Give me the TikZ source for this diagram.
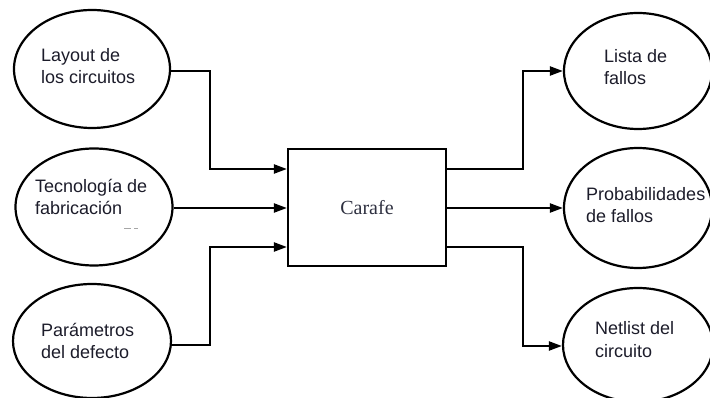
\documentclass[tikz,border=0pt]{standalone}
\usepackage{fontspec}
\setmainfont{Liberation Sans}
\newfontfamily\serifface{Liberation Serif}
\usetikzlibrary{shapes.geometric,arrows.meta}
\definecolor{ink}{HTML}{1C1C2A}
\definecolor{boxink}{HTML}{2E3040}
\tikzset{
  oval/.style={draw=black, line width=2.2pt, ellipse, inner sep=0pt},
  block/.style={draw=black, line width=2.2pt, rectangle, inner sep=0pt,
                minimum width=158pt, minimum height=117pt},
  % anchored on the baseline of the second line
  lbl/.style={align=left, anchor=base west, inner sep=0pt, text=ink,
              font=\fontsize{18}{22.5}\selectfont},
  flow/.style={line width=2.2pt, -{Triangle[length=13pt,width=9pt]}},
}
\begin{document}
\begin{tikzpicture}[x=1pt, y=-1pt]
  \useasboundingbox (0,0) rectangle (710,398);

  % inputs
  \node[oval, minimum width=156pt, minimum height=118pt] (layout) at (92,69) {};
  \node[oval, minimum width=157pt, minimum height=117pt] (tecno)  at (94,207) {};
  \node[oval, minimum width=158pt, minimum height=114pt] (param)  at (92,341) {};
  \node[lbl] (tlayout) at (41,84)  {Layout de\\los circuitos};
  \node[lbl] (ttecno)  at (35,215) {Tecnología de\\fabricación};
  \node[lbl] (tparam)  at (41,359) {Parámetros\\del defecto};
  \draw[gray!70, line width=1pt] (124,229) -- (131,229) (134,229) -- (138,229);

  % central tool
  \node[block] (carafe) at (367,207.5) {};
  \node[text=boxink, font=\serifface\fontsize{20}{24}\selectfont] (tcarafe)
    at (carafe.center) {Carafe};

  % outputs
  \node[oval, minimum width=148pt, minimum height=116pt] (lista) at (638,71) {};
  \node[oval, minimum width=148pt, minimum height=120pt] (proba) at (638,208) {};
  \node[oval, minimum width=150pt, minimum height=114pt] (netl)  at (638,345) {};
  \node[lbl] (tlista) at (604,85)  {Lista de\\fallos};
  \node[lbl] (tproba) at (586,223) {Probabilidades\\de fallos};
  \node[lbl] (tnetl)  at (595,357) {Netlist del\\circuito};

  % connectors into the tool
  \coordinate (in1) at (carafe.west |- 0,169);
  \coordinate (in3) at (carafe.west |- 0,247);
  \draw[flow] (layout.east |- 0,71) -| (210,169) -- (in1);
  \draw[flow] (tecno.east |- 0,208) -- (carafe.west |- 0,208);
  \draw[flow] (param.east |- 0,345) -| (210,247) -- (in3);

  % connectors out of the tool
  \coordinate (out1) at (carafe.east |- 0,169);
  \coordinate (out3) at (carafe.east |- 0,247);
  \draw[flow] (out1) -| (523,71) -- (lista.west);
  \draw[flow] (carafe.east |- 0,208) -- (proba.west);
  \draw[flow] (out3) -| (523,346) -- (netl.west |- 0,346);
\end{tikzpicture}
\end{document}
